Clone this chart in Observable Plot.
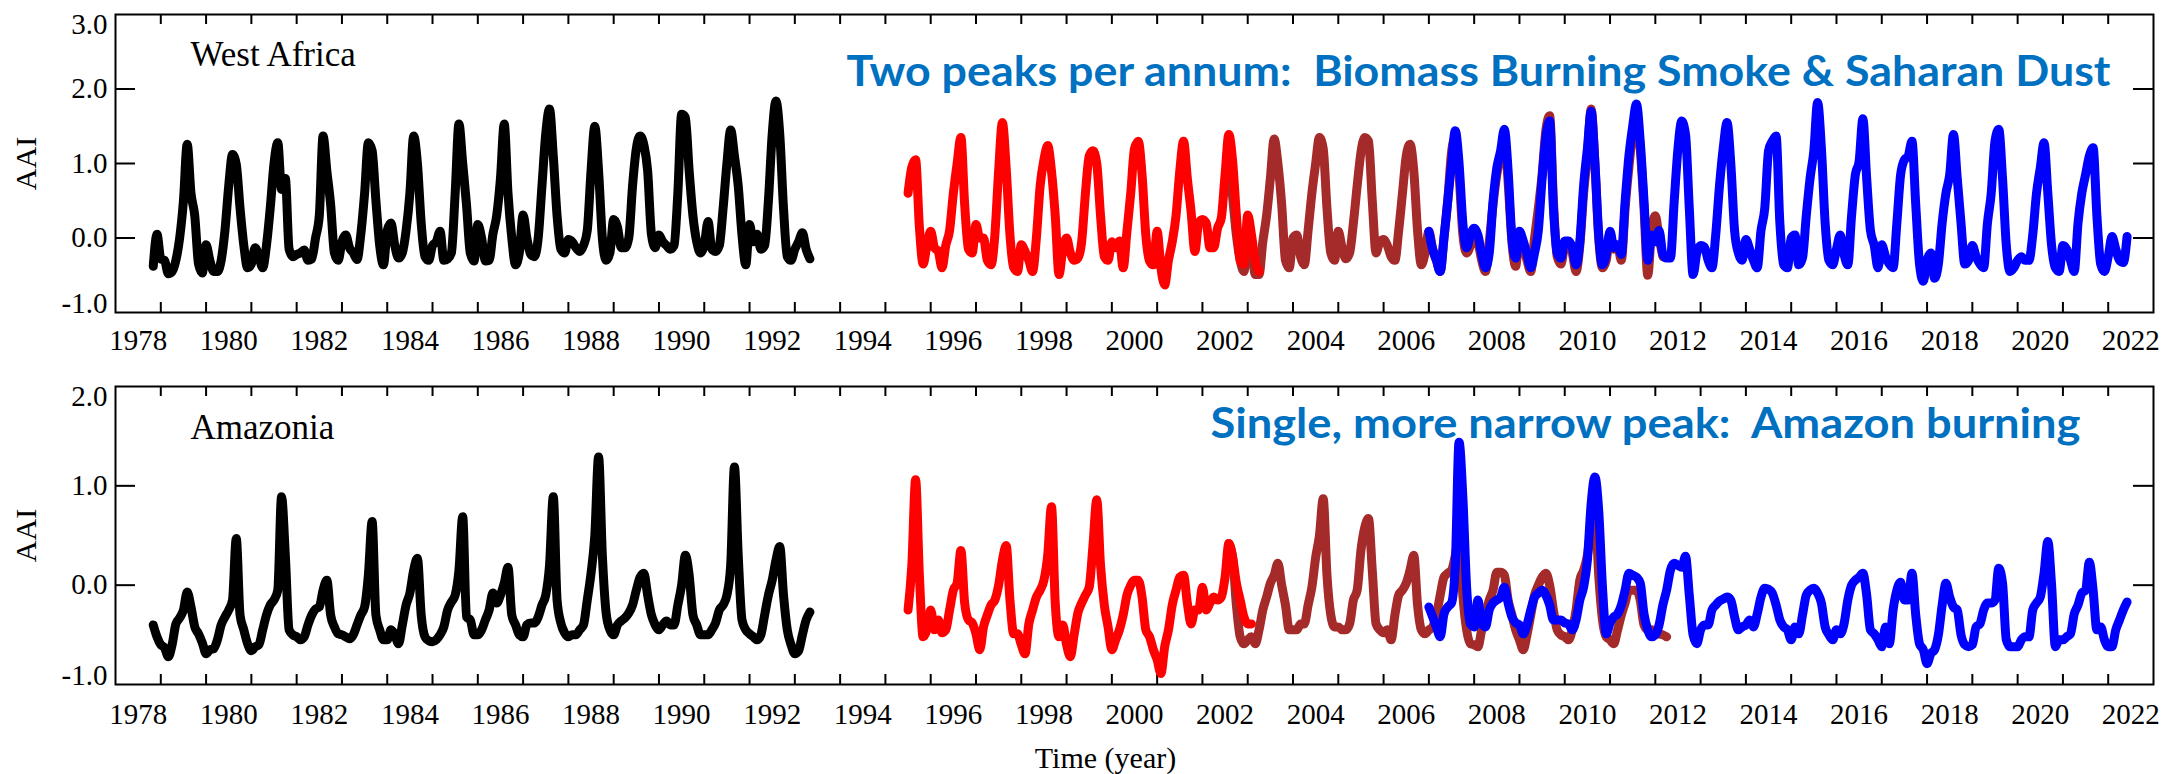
<!DOCTYPE html>
<html><head><meta charset="utf-8">
<script src="https://cdn.jsdelivr.net/npm/d3@7"></script>
<script src="https://cdn.jsdelivr.net/npm/@observablehq/plot@0.6"></script>
<style>
html,body{margin:0;padding:0;background:#fff;}
#chart{width:2174px;height:774px;position:relative;overflow:hidden;background:#fff;}
#chart svg{display:block;}
</style></head><body><div id="chart"></div>
<script>
// ---------- tick labels ----------
const xTickLabels = ["1978","1980","1982","1984","1986","1988","1990","1992","1994","1996","1998","2000","2002","2004","2006","2008","2010","2012","2014","2016","2018","2020","2022"];
const xTickYears = [1979,1980,1981,1982,1983,1984,1985,1986,1987,1988,1989,1990,1991,1992,1993,1994,1995,1996,1997,1998,1999,2000,2001,2002,2003,2004,2005,2006,2007,2008,2009,2010,2011,2012,2013,2014,2015,2016,2017,2018,2019,2020,2021,2022];
const yTickLabelsWA = ["-1.0","0.0","1.0","2.0","3.0"];
const yTickLabelsAM = ["-1.0","0.0","1.0","2.0"];

// ---------- West Africa (monthly AAI) ----------
const waTomsStart = [1978, 11];
const waToms = [
 -0.38, 0.05,
 -0.28,-0.30,-0.48,-0.45,-0.30, 0.00, 0.50, 1.26, 0.60, 0.30,-0.35,-0.47,
 -0.09,-0.30,-0.45,-0.45,-0.30, 0.10, 0.70, 1.12, 0.99, 0.40,-0.10,-0.40,
 -0.35,-0.13,-0.25,-0.40,-0.10, 0.40, 1.00, 1.28, 0.65, 0.80,-0.15,-0.25,
 -0.22,-0.20,-0.16,-0.30,-0.28, 0.00, 0.30, 1.37, 0.90, 0.45,-0.20,-0.30,
 -0.05, 0.04,-0.13,-0.20,-0.29, 0.05, 0.60, 1.28, 1.17, 0.50,-0.10,-0.36,
  0.10, 0.20,-0.10,-0.27,-0.20, 0.10, 0.60, 1.37, 1.00, 0.20,-0.25,-0.30,
 -0.10,-0.05, 0.09,-0.30,-0.28,-0.20, 0.60, 1.53, 1.00, 0.45,-0.20,-0.31,
  0.18, 0.00,-0.31,-0.30, 0.05, 0.30, 0.80, 1.53, 0.60, 0.00,-0.36,-0.20,
  0.31, 0.00,-0.22,-0.25, 0.00, 0.70, 1.40, 1.73, 1.10, 0.30,-0.15,-0.20,
 -0.02,-0.05,-0.13,-0.18,-0.10, 0.10, 0.90, 1.50, 0.90, 0.00,-0.30,-0.20,
  0.25, 0.15,-0.13,-0.13, 0.00, 0.70, 1.20, 1.37, 1.25, 0.90, 0.05,-0.13,
  0.04,-0.05,-0.10,-0.15,-0.10, 0.60, 1.66, 1.62, 0.90, 0.30,-0.05,-0.20,
 -0.10, 0.22,-0.15,-0.18,-0.10, 0.40, 1.00, 1.45, 1.10, 0.70, 0.04,-0.36,
  0.18,-0.05, 0.05,-0.15,-0.10, 0.50, 1.39, 1.84, 1.40, 0.40,-0.25,-0.30,
 -0.15,-0.05, 0.07,-0.15,-0.28
];
const waGomeStart = [1995, 7];
const waGome = [
  0.60, 0.95, 1.05, 0.15,-0.35,-0.10,
  0.09,-0.13,-0.18,-0.40,-0.10, 0.10, 0.60, 1.00, 1.35, 0.45,-0.15,-0.20,
  0.18, 0.00, 0.00,-0.30,-0.36, 0.04, 0.90, 1.55, 0.94, 0.04,-0.40,-0.45,
 -0.09,-0.18,-0.30,-0.45, 0.00, 0.70, 1.05, 1.24, 0.90, 0.30,-0.49,-0.15,
  0.00,-0.20,-0.30,-0.27,-0.05, 0.60, 1.10, 1.17, 1.00, 0.30,-0.25,-0.30,
 -0.05,-0.13,-0.04,-0.40, 0.09, 0.60, 1.20, 1.30, 0.85, 0.04,-0.31,-0.36,
  0.09,-0.40,-0.63,-0.30,-0.05, 0.30, 0.90, 1.30, 0.80, 0.35,-0.18, 0.20,
  0.25, 0.20,-0.13,-0.13, 0.13, 0.27, 0.85, 1.39, 1.03, 0.30,-0.30,-0.35,
  0.31, 0.04,-0.31,-0.45
];
const waSciaStart = [2002, 8];
const waScia = [
  1.05, 0.55, 0.04,-0.30,-0.45,
 -0.04,-0.13,-0.49,-0.49,-0.05, 0.30, 0.80, 1.33, 1.00, 0.45,-0.30,-0.40,
  0.00, 0.04,-0.25,-0.36, 0.10, 0.60, 1.00, 1.35, 1.20, 0.40,-0.20,-0.30,
  0.09,-0.13,-0.28,-0.20, 0.20, 0.70, 1.15, 1.35, 1.30, 0.50,-0.20,-0.05,
 -0.02,-0.10,-0.25,-0.30, 0.10, 0.60, 1.10, 1.26, 0.90, 0.10,-0.36,-0.20,
  0.09,-0.15,-0.30,-0.45, 0.00, 0.50, 1.15, 1.35, 0.85, 0.05,-0.20,-0.10,
  0.10,-0.05,-0.30,-0.45,-0.05, 0.45, 0.85, 1.10, 1.35, 0.75,-0.05,-0.38,
  0.05,-0.10,-0.30,-0.45, 0.00, 0.40, 0.85, 1.45, 1.64, 0.50,-0.25,-0.35,
 -0.10,-0.05,-0.20,-0.45,-0.10, 0.60, 1.10, 1.73, 1.00, 0.00,-0.40,-0.30,
  0.05,-0.15,-0.10,-0.30, 0.40, 0.95, 1.40, 1.65, 1.20, 0.40,-0.50, 0.10,
  0.30, 0.00,-0.25
];
const waGome2Start = [2007, 1];
const waGome2 = [
  0.09,-0.15,-0.30,-0.45, 0.00, 0.50, 1.00, 1.44, 1.00, 0.20,-0.13, 0.04,
  0.13, 0.04,-0.22,-0.40,-0.20, 0.49, 0.94, 1.17, 1.46, 0.90, 0.00,-0.27,
  0.09,-0.04,-0.22,-0.40,-0.20, 0.10, 0.80, 1.35, 1.57, 0.40,-0.20,-0.27,
 -0.04,-0.04,-0.13,-0.36,-0.05, 0.70, 1.20, 1.70, 1.00, 0.04,-0.36,-0.22,
  0.09,-0.13,-0.09,-0.22, 0.49, 1.10, 1.50, 1.80, 1.30, 0.50,-0.30, 0.04,
 -0.05, 0.10,-0.22,-0.27,-0.27, 0.49, 1.20, 1.57, 1.39, 0.40,-0.49,-0.20,
 -0.10,-0.12,-0.30,-0.40, 0.04, 0.70, 1.21, 1.55, 1.00, 0.10,-0.20,-0.30,
 -0.02,-0.15,-0.30,-0.40, 0.10, 0.40, 1.17, 1.30, 1.37, 0.20,-0.36,-0.40,
  0.00, 0.04,-0.36,-0.27, 0.30, 0.80, 1.17, 1.82, 1.21, 0.20,-0.30,-0.36,
 -0.15, 0.04,-0.22,-0.36, 0.30, 0.85, 1.03, 1.60, 0.80, 0.10,-0.10,-0.40,
 -0.09,-0.25,-0.35,-0.40, 0.20, 0.85, 1.05, 1.10, 1.30, 0.45,-0.35,-0.58,
 -0.30,-0.20,-0.54,-0.35, 0.20, 0.60, 0.85, 1.39, 0.80, 0.20,-0.35,-0.30,
 -0.10,-0.25,-0.35,-0.40, 0.20, 0.60, 1.30, 1.46, 0.80,-0.10,-0.45,-0.40,
 -0.30,-0.25,-0.30,-0.30, 0.04, 0.60, 0.94, 1.28, 0.60,-0.10,-0.40,-0.45,
 -0.10,-0.15,-0.30,-0.45, 0.20, 0.60, 0.85, 1.10, 1.21, 0.30,-0.35,-0.45,
 -0.25, 0.02,-0.15,-0.30,-0.33, 0.02
];

// ---------- Amazonia (monthly AAI) ----------
const amTomsStart = [1978, 11];
const amToms = [
 -0.40,-0.52,
 -0.60,-0.63,-0.72,-0.60,-0.39,-0.33,-0.25,-0.07,-0.22,-0.42,-0.49,-0.58,
 -0.69,-0.65,-0.64,-0.55,-0.40,-0.32,-0.25,-0.15, 0.47,-0.30,-0.45,-0.59,
 -0.66,-0.62,-0.60,-0.45,-0.30,-0.20,-0.15,-0.05, 0.89, 0.30,-0.45,-0.50,
 -0.52,-0.55,-0.52,-0.40,-0.30,-0.24,-0.22,-0.05, 0.05,-0.30,-0.42,-0.49,
 -0.50,-0.52,-0.54,-0.50,-0.40,-0.30,-0.22, 0.10, 0.64,-0.30,-0.45,-0.55,
 -0.55,-0.45,-0.50,-0.59,-0.40,-0.20,-0.08, 0.15, 0.27,-0.30,-0.52,-0.56,
 -0.57,-0.55,-0.50,-0.42,-0.25,-0.17,-0.10, 0.15, 0.69,-0.32,-0.35,-0.50,
 -0.50,-0.45,-0.35,-0.25,-0.08,-0.18,-0.10, 0.02, 0.18,-0.30,-0.40,-0.50,
 -0.52,-0.40,-0.38,-0.38,-0.32,-0.20,-0.10, 0.20, 0.89,-0.15,-0.38,-0.48,
 -0.52,-0.50,-0.50,-0.45,-0.40,-0.15, 0.12, 0.50, 1.29, 0.30,-0.28,-0.45,
 -0.50,-0.40,-0.36,-0.33,-0.28,-0.20,-0.05, 0.08, 0.12,-0.10,-0.30,-0.40,
 -0.45,-0.40,-0.36,-0.40,-0.40,-0.20, 0.00, 0.30, 0.10,-0.30,-0.40,-0.50,
 -0.50,-0.50,-0.45,-0.38,-0.25,-0.20,-0.10, 0.20, 1.19, 0.30,-0.35,-0.45,
 -0.49,-0.52,-0.55,-0.50,-0.30,-0.10, 0.05, 0.25, 0.39,-0.10,-0.45,-0.60,
 -0.69,-0.66,-0.50,-0.35,-0.27
];
const amGomeStart = [1995, 7];
const amGome = [
 -0.25, 0.20, 1.06, 0.10,-0.52,-0.45,
 -0.25,-0.45,-0.35,-0.48,-0.45,-0.25,-0.05, 0.02, 0.35,-0.18,-0.35,-0.38,
 -0.49,-0.65,-0.42,-0.30,-0.20,-0.15, 0.00, 0.25, 0.40,-0.15,-0.49,-0.49,
 -0.60,-0.69,-0.39,-0.25,-0.12,-0.05, 0.05, 0.30, 0.79,-0.18,-0.52,-0.40,
 -0.60,-0.72,-0.50,-0.28,-0.18,-0.10,-0.02, 0.40, 0.86, 0.20,-0.20,-0.42,
 -0.65,-0.55,-0.45,-0.30,-0.10, 0.00, 0.05, 0.05,-0.12,-0.45,-0.52,-0.65,
 -0.75,-0.89,-0.62,-0.45,-0.20,-0.05, 0.08, 0.10,-0.18,-0.39,-0.25,-0.25,
 -0.02,-0.25,-0.18,-0.12,-0.15,-0.12, 0.08, 0.42, 0.28, 0.02,-0.15,-0.32,
 -0.39,-0.39
];
const amSciaStart = [2002, 8];
const amScia = [
  0.42, 0.28,-0.20,-0.52,-0.59,
 -0.55,-0.52,-0.59,-0.45,-0.25,-0.12, 0.02, 0.10, 0.22, 0.00,-0.20,-0.45,
 -0.45,-0.45,-0.39,-0.39,-0.20,-0.02, 0.28, 0.50, 0.87, 0.10,-0.30,-0.42,
 -0.42,-0.45,-0.45,-0.39,-0.15,-0.05, 0.35, 0.58, 0.67, 0.15,-0.39,-0.45,
 -0.48,-0.45,-0.55,-0.30,-0.10,-0.05, 0.02, 0.15, 0.30,-0.20,-0.45,-0.49,
 -0.45,-0.42,-0.30,-0.10, 0.08, 0.12, 0.15, 0.30, 0.50,-0.10,-0.45,-0.59,
 -0.60,-0.62,-0.45,-0.30,-0.15,-0.05, 0.13, 0.13, 0.10,-0.15,-0.30,-0.45,
 -0.55,-0.65,-0.50,-0.30,-0.10, 0.00, 0.08, 0.12, 0.00,-0.25,-0.45,-0.50,
 -0.52,-0.55,-0.45,-0.25, 0.05, 0.15, 0.30, 0.60, 0.80, 0.10,-0.35,-0.52,
 -0.55,-0.59,-0.45,-0.30,-0.18,-0.05,-0.05,-0.05,-0.15,-0.40,-0.45,-0.45,
 -0.47,-0.49,-0.50,-0.52
];
const amGome2Start = [2007, 1];
const amGome2 = [
 -0.22,-0.32,-0.42,-0.52,-0.29,-0.22,-0.18, 0.20, 1.44, 0.89,-0.02,-0.39,
 -0.42,-0.15,-0.39,-0.42,-0.25,-0.18,-0.15,-0.12,-0.02,-0.18,-0.32,-0.38,
 -0.40,-0.49,-0.40,-0.25,-0.12,-0.08,-0.05,-0.10,-0.20,-0.35,-0.35,-0.35,
 -0.38,-0.39,-0.45,-0.35,-0.15,-0.02, 0.25, 0.82, 1.09, 0.75,-0.02,-0.49,
 -0.38,-0.32,-0.29,-0.20,-0.05, 0.12, 0.10, 0.08, 0.02,-0.29,-0.45,-0.52,
 -0.50,-0.40,-0.20,-0.05, 0.15, 0.22, 0.20, 0.18, 0.29,-0.10,-0.50,-0.59,
 -0.45,-0.40,-0.40,-0.25,-0.20,-0.16,-0.14,-0.12,-0.15,-0.32,-0.45,-0.42,
 -0.40,-0.35,-0.42,-0.29,-0.12,-0.03,-0.04,-0.08,-0.20,-0.35,-0.42,-0.45,
 -0.55,-0.42,-0.49,-0.30,-0.10,-0.05,-0.03,-0.08,-0.18,-0.42,-0.50,-0.55,
 -0.45,-0.49,-0.39,-0.15, 0.00, 0.05, 0.08, 0.12,-0.10,-0.45,-0.49,-0.55,
 -0.62,-0.42,-0.59,-0.25,-0.05, 0.03,-0.15,-0.15, 0.12,-0.30,-0.59,-0.65,
 -0.79,-0.69,-0.65,-0.50,-0.20, 0.02,-0.12,-0.22,-0.25,-0.50,-0.60,-0.62,
 -0.60,-0.42,-0.39,-0.25,-0.18,-0.18,-0.15, 0.17, 0.02,-0.55,-0.62,-0.62,
 -0.62,-0.55,-0.52,-0.52,-0.25,-0.18,-0.12, 0.12, 0.44, 0.00,-0.62,-0.55,
 -0.55,-0.52,-0.49,-0.29,-0.20,-0.08,-0.05, 0.23,-0.05,-0.45,-0.42,-0.55,
 -0.62,-0.62,-0.45,-0.35,-0.25,-0.17
];

const colors = {toms: "#000000", gome: "#ff0000", scia: "#a52a2a", gome2: "#0000ff"};

function monthly(start, values) {
  return values.map((v, i) => ({t: start[0] + (start[1] - 1 + i) / 12, v}));
}

const W = 2174, ML = 115, MR = 21;
const innerW = W - ML - MR;
const serif = "Liberation Serif";

function panel(opts) {
  const {height, marginTop, marginBottom, yDomain, yLabels, series, title, titleDy, note, noteDx, noteDy, xPad, xTitle} = opts;
  const innerH = height - marginTop - marginBottom;
  const yVals = yLabels.map(Number);
  const yMin = yDomain[0], yMax = yDomain[1];
  const yInner = yVals.filter(v => v > yMin && v < yMax);
  const marks = [
    Plot.ruleX(xTickYears, {insetTop: innerH - 10, stroke: "black", strokeWidth: 2}),
    Plot.ruleX(xTickYears, {insetBottom: innerH - 10, stroke: "black", strokeWidth: 2}),
    Plot.ruleY(yInner, {insetRight: innerW - 20, stroke: "black", strokeWidth: 2}),
    Plot.ruleY(yInner, {insetLeft: innerW - 20, stroke: "black", strokeWidth: 2}),
    ...series.map(s => Plot.line(s.data, {x: "t", y: "v", stroke: s.color, strokeWidth: 9, curve: "monotone-x", strokeLinejoin: "round", strokeLinecap: "round"})),
    Plot.frame({stroke: "black", strokeWidth: 2}),
    Plot.text(xTickLabels, {x: d => +d + 0.5, text: d => d, frameAnchor: "bottom", lineAnchor: "top", dy: xPad, fontSize: 29}),
    Plot.text(yLabels.filter(d => +d > yMin && +d < yMax), {y: d => +d, text: d => d, frameAnchor: "left", textAnchor: "end", dx: -8, fontSize: 29}),
    Plot.text(yLabels.filter(d => +d === yMax), {y: d => +d, text: d => d, frameAnchor: "left", textAnchor: "end", dx: -8, dy: 10, fontSize: 29}),
    Plot.text(yLabels.filter(d => +d === yMin), {y: d => +d, text: d => d, frameAnchor: "left", textAnchor: "end", dx: -8, dy: -9, fontSize: 29}),
    Plot.text(["AAI"], {frameAnchor: "left", rotate: -90, dx: -80, textAnchor: "middle", lineAnchor: "bottom", fontSize: 30}),
    Plot.text([title], {frameAnchor: "top-left", dx: 75, dy: titleDy, textAnchor: "start", lineAnchor: "bottom", fontSize: 35}),
    Plot.text([note.text], {frameAnchor: "top-left", dx: noteDx, dy: noteDy, textAnchor: "start", lineAnchor: "bottom", fill: "#0070C0", fontFamily: "Lato", fontWeight: "bold", fontSize: 42})
  ];
  if (xTitle) marks.push(Plot.text([xTitle], {frameAnchor: "bottom", dx: -29, dy: 83, lineAnchor: "bottom", textAnchor: "middle", fontSize: 30}));
  const svg = Plot.plot({
    width: W, height, marginLeft: ML, marginRight: MR, marginTop, marginBottom,
    x: {domain: [1978, 2023], axis: null},
    y: {domain: yDomain, axis: null},
    style: {fontFamily: serif, background: "white", color: "black", overflow: "visible"},
    marks
  });
  svg.querySelectorAll("text").forEach(t => {
    if (t.textContent === note.text) {
      t.setAttribute("textLength", note.length);
      t.setAttribute("lengthAdjust", "spacingAndGlyphs");
      t.style.whiteSpace = "pre";
    }
  });
  return svg;
}

const chart = document.getElementById("chart");
chart.appendChild(panel({
  height: 370, marginTop: 14, marginBottom: 58, yDomain: [-1, 3], yLabels: yTickLabelsWA,
  series: [
    {data: monthly(waTomsStart, waToms), color: colors.toms},
    {data: monthly(waSciaStart, waScia), color: colors.scia},
    {data: monthly(waGomeStart, waGome), color: colors.gome},
    {data: monthly(waGome2Start, waGome2), color: colors.gome2}
  ],
  title: "West Africa", titleDy: 51,
  note: {text: "Two peaks per annum:  Biomass Burning Smoke & Saharan Dust", length: 1264},
  noteDx: 731, noteDy: 71, xPad: 17
}));
chart.appendChild(panel({
  height: 404, marginTop: 16, marginBottom: 90, yDomain: [-1, 2], yLabels: yTickLabelsAM,
  series: [
    {data: monthly(amTomsStart, amToms), color: colors.toms},
    {data: monthly(amSciaStart, amScia), color: colors.scia},
    {data: monthly(amGomeStart, amGome), color: colors.gome},
    {data: monthly(amGome2Start, amGome2), color: colors.gome2}
  ],
  title: "Amazonia", titleDy: 52,
  note: {text: "Single, more narrow peak:  Amazon burning", length: 870},
  noteDx: 1095, noteDy: 51, xPad: 19, xTitle: "Time (year)"
}));
</script></body></html>
